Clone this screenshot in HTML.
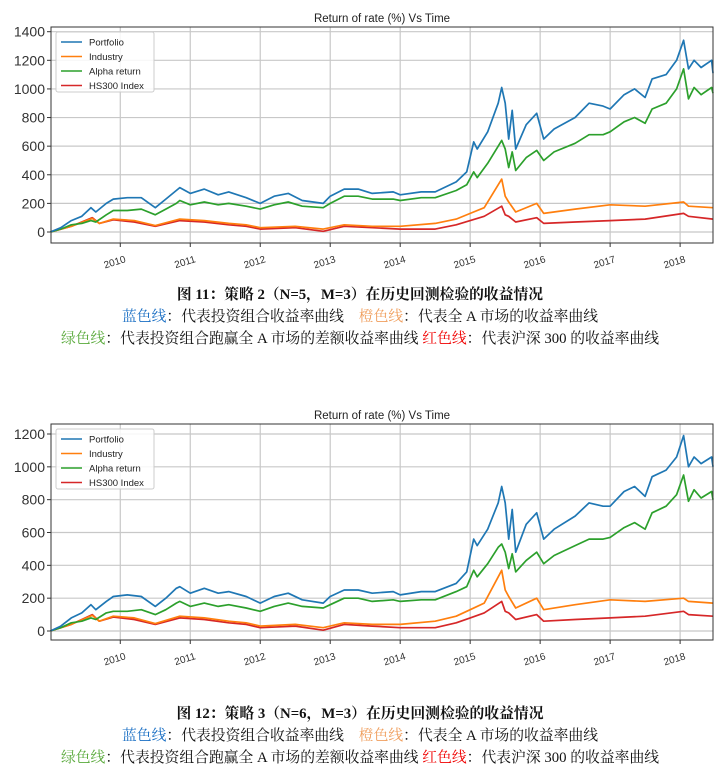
<!DOCTYPE html>
<html><head><meta charset="utf-8">
<style>
body{margin:0;background:#fff;width:720px;height:777px;overflow:hidden;font-family:"Liberation Sans","Noto Sans CJK SC",sans-serif;}
.cap{position:absolute;left:0;width:720px;text-align:center;font-family:"Liberation Serif","Noto Serif CJK SC","Noto Sans CJK SC",serif;font-size:14.8px;color:#111;white-space:nowrap;line-height:20px;}
.b{color:#1a6fc4}.o{color:#f0a060}.g{color:#5aaa3c}.r{color:#f00000}
</style></head><body>
<svg id="c1" width="720" height="270" style="position:absolute;left:0;top:0"></svg>
<svg id="c2" width="720" height="280" style="position:absolute;left:0;top:397px"></svg>
<div class="cap" style="top:285px;font-weight:bold">图 11：策略 2（N=5，M=3）在历史回测检验的收益情况</div>
<div class="cap" style="top:307px"><span class="b">蓝色线</span>：代表投资组合收益率曲线 &nbsp;&nbsp;&nbsp;<span class="o">橙色线</span>：代表全 A 市场的收益率曲线</div>
<div class="cap" style="top:329px"><span class="g">绿色线</span>：代表投资组合跑赢全 A 市场的差额收益率曲线 <span class="r">红色线</span>：代表沪深 300 的收益率曲线</div>
<div class="cap" style="top:704px;font-weight:bold">图 12：策略 3（N=6，M=3）在历史回测检验的收益情况</div>
<div class="cap" style="top:726px"><span class="b">蓝色线</span>：代表投资组合收益率曲线 &nbsp;&nbsp;&nbsp;<span class="o">橙色线</span>：代表全 A 市场的收益率曲线</div>
<div class="cap" style="top:748px"><span class="g">绿色线</span>：代表投资组合跑赢全 A 市场的差额收益率曲线 <span class="r">红色线</span>：代表沪深 300 的收益率曲线</div>
<script>
const xTickLabels=["2010","2011","2012","2013","2014","2015","2016","2017","2018"];
const seriesNames=["Portfolio","Industry","Alpha return","HS300 Index"];
const yTicks1=[0,200,400,600,800,1000,1200,1400];
const yTicks2=[0,200,400,600,800,1000,1200];
const portDates=[2009.0,2009.15,2009.3,2009.45,2009.58,2009.65,2009.8,2009.9,2010.1,2010.3,2010.5,2010.65,2010.8,2010.85,2011.0,2011.2,2011.4,2011.55,2011.8,2012.0,2012.2,2012.4,2012.6,2012.9,2013.0,2013.2,2013.4,2013.6,2013.9,2014.0,2014.3,2014.5,2014.8,2014.95,2015.05,2015.1,2015.25,2015.4,2015.45,2015.5,2015.55,2015.6,2015.65,2015.8,2015.95,2016.05,2016.2,2016.5,2016.7,2016.9,2017.0,2017.2,2017.35,2017.5,2017.6,2017.8,2017.95,2018.05,2018.12,2018.2,2018.3,2018.45,2018.47];
const port1=[0,30,80,110,170,140,200,230,240,240,170,230,290,310,270,300,260,280,240,200,250,270,220,200,250,300,300,270,280,260,280,280,350,420,630,580,700,900,1010,900,650,850,580,750,830,650,720,800,900,880,860,960,1000,940,1070,1100,1200,1340,1140,1200,1150,1200,1110];
const alpha1=[0,20,50,60,80,70,120,150,150,160,120,160,200,220,190,210,190,200,180,160,190,210,180,170,200,250,250,230,230,220,240,240,290,330,420,380,480,600,640,580,450,560,430,520,570,500,560,620,680,680,700,770,800,760,860,900,1000,1140,930,1010,960,1010,970];
const indDates=[2009.0,2009.3,2009.6,2009.7,2009.9,2010.2,2010.5,2010.85,2011.2,2011.55,2011.8,2012.0,2012.5,2012.9,2013.2,2013.6,2014.0,2014.5,2014.8,2015.0,2015.2,2015.45,2015.5,2015.55,2015.65,2015.95,2016.05,2016.5,2017.0,2017.5,2018.05,2018.12,2018.47];
const ind1=[0,40,95,60,90,80,45,90,80,60,50,30,40,20,50,40,40,60,90,130,170,370,250,210,140,200,130,160,190,180,210,180,170];
const hs1=[0,40,100,60,85,70,40,80,70,50,40,20,30,5,40,30,20,20,50,80,110,180,120,110,70,100,60,70,80,90,130,110,90];
const port2=[0,30,80,110,160,130,180,210,220,210,150,200,260,270,230,260,230,240,210,170,210,230,190,170,210,250,250,230,240,220,240,240,290,360,560,520,620,780,880,780,560,740,480,650,720,560,620,700,780,760,760,850,880,820,940,980,1060,1190,1000,1060,1020,1060,1000];
const alpha2=[0,20,50,60,80,70,110,120,120,130,100,130,170,180,150,170,150,160,140,120,150,170,150,140,160,200,200,180,190,180,190,190,240,270,370,330,410,510,530,480,380,470,360,430,480,410,460,520,560,560,570,630,660,620,720,760,830,950,790,860,810,850,800];
const ind2=[0,40,95,60,90,80,45,90,80,60,50,30,40,20,50,40,40,60,90,130,170,370,250,210,140,200,130,160,190,180,200,180,170];
const hs2=[0,40,100,60,85,70,40,80,70,50,40,20,30,5,40,30,20,20,50,80,110,180,120,110,70,100,60,70,80,90,120,100,90];

const colors=["#1f77b4","#ff7f0e","#2ca02c","#d62728"];
const NS="http://www.w3.org/2000/svg";
function mk(p,tag,attrs){const e=document.createElementNS(NS,tag);for(const k in attrs)e.setAttribute(k,attrs[k]);p.appendChild(e);return e;}
function draw(svg,cfg){
  const L=51,R=713,T=cfg.top,B=cfg.bottom,x0=2009.01,x1=2018.47;
  const xs=v=>L+(v-x0)/(x1-x0)*(R-L);
  const ys=v=>cfg.zeroY-(v/cfg.yMax)*(cfg.zeroY-cfg.maxY);
  const t=mk(svg,'text',{x:382,y:T-5,'text-anchor':'middle','font-size':'11.5','fill':'#222'});
  t.textContent="Return of rate (%) Vs Time";
  
  
  cfg.yTicks.forEach(v=>{const y=ys(v);
    const g=mk(svg,'line',{x1:L,x2:R,y1:y,y2:y,stroke:'#c8c8c8','stroke-width':1.2});
    
    
    mk(svg,'line',{x1:L-4,x2:L,y1:y,y2:y,stroke:'#333'});
    const tx=mk(svg,'text',{x:L-6,y:y+5,'text-anchor':'end','font-size':'14','fill':'#333'});
    tx.textContent=v;
    
    
  });
  xTickLabels.forEach(lb=>{const x=xs(+lb);
    const g=mk(svg,'line',{x1:x,x2:x,y1:T,y2:B,stroke:'#c8c8c8','stroke-width':1.2});
    
    
    mk(svg,'line',{x1:x,x2:x,y1:B,y2:B+4,stroke:'#333'});
    const tx=mk(svg,'text',{x:x+6,y:B+19,'text-anchor':'end','font-size':'10','fill':'#333',transform:`rotate(-17 ${x+6} ${B+19})`});
    tx.textContent=lb;
    
    
  });
  const order=[[cfg.hs,indDates,3],[cfg.ind,indDates,1],[cfg.alpha,portDates,2],[cfg.port,portDates,0]];
  order.forEach(([vals,dates,ci])=>{
    const pts=vals.map((v,i)=>xs(dates[i]).toFixed(1)+','+ys(v).toFixed(1)).join(' ');
    const pl=mk(svg,'polyline',{points:pts,fill:'none',stroke:colors[ci],'stroke-width':1.7,'stroke-linejoin':'round'});
    
    
  });
  const fr=mk(svg,'rect',{x:L,y:T,width:R-L,height:B-T,fill:'none',stroke:'#333','stroke-width':1});
  
  
  const lg=mk(svg,'g',{});
  
  
  mk(lg,'rect',{x:L+5,y:T+5,width:98,height:60,fill:'#fff','fill-opacity':0.85,stroke:'#ccc',rx:2});
  seriesNames.forEach((n,i)=>{const y=T+15+i*14.5;
    mk(lg,'line',{x1:L+10,x2:L+31,y1:y,y2:y,stroke:colors[i],'stroke-width':1.6});
    const tx=mk(lg,'text',{x:L+38,y:y+3.5,'font-size':'9.5','fill':'#222'});
    tx.textContent=n;
    
    
  });
}
draw(document.getElementById('c1'),{top:27,bottom:243,zeroY:232,maxY:31.7,yMax:1400,yTicks:yTicks1,port:port1,alpha:alpha1,ind:ind1,hs:hs1});
draw(document.getElementById('c2'),{top:27,bottom:243,zeroY:234,maxY:37,yMax:1200,yTicks:yTicks2,port:port2,alpha:alpha2,ind:ind2,hs:hs2});
</script>
</body></html>
